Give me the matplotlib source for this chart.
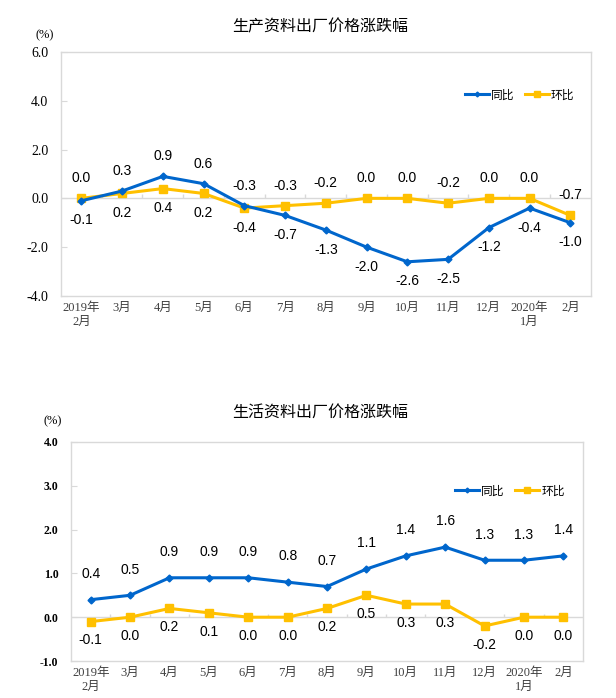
import numpy as np
import matplotlib
matplotlib.use("Agg")
import matplotlib.pyplot as plt

# data
months = ['2019年\n2月', '3月', '4月', '5月', '6月', '7月', '8月', '9月',
          '10月', '11月', '12月', '2020年\n1月', '2月']

prod_yoy = [-0.1, 0.3, 0.9, 0.6, -0.3, -0.7, -1.3, -2.0, -2.6, -2.5, -1.2, -0.4, -1.0]
prod_mom = [0.0, 0.2, 0.4, 0.2, -0.4, -0.3, -0.2, 0.0, 0.0, -0.2, 0.0, 0.0, -0.7]

cons_yoy = [0.4, 0.5, 0.9, 0.9, 0.9, 0.8, 0.7, 1.1, 1.4, 1.6, 1.3, 1.3, 1.4]
cons_mom = [-0.1, 0.0, 0.2, 0.1, 0.0, 0.0, 0.2, 0.5, 0.3, 0.3, -0.2, 0.0, 0.0]

BLUE = '#0066CC'
YELLOW = '#FFC000'
GRID = '#D9D9D9'
SERIF = ['Liberation Serif', 'Noto Sans CJK SC']
SANS = ['Liberation Sans', 'Noto Sans CJK SC']
CJK = ['Noto Sans CJK SC', 'DejaVu Sans']

fig = plt.figure(figsize=(6.16, 6.98), dpi=100)


def draw_panel(ax, yoy, mom, ylim, yticks, title, title_y, pct_xy, leg_anchor,
               ytick_size, ytick_weight, sides, offs):
    x = np.arange(len(months))
    ax.set_xlim(-0.5, len(months) - 0.5)
    ax.set_ylim(*ylim)

    # zero line with category ticks
    ax.axhline(0, color=GRID, lw=1, zorder=1)
    tick_h = (ylim[1] - ylim[0]) * 0.016
    ax.vlines(np.arange(0.5, len(months) - 1), 0, tick_h, color=GRID, lw=1, zorder=1)

    ax.plot(x, yoy, color=BLUE, lw=2.2, marker='D', ms=3.5, label='同比', zorder=3)
    ax.plot(x, mom, color=YELLOW, lw=2.2, marker='s', ms=5.5, label='环比', zorder=2)

    # data labels: higher series above, lower below (unless fixed)
    for i in x:
        for vals, other, fixed in ((yoy, mom, sides[0]), (mom, yoy, sides[1])):
            if fixed is None:
                up = vals[i] > other[i] or (vals[i] == other[i] and vals is mom)
            else:
                up = fixed
            dy = offs[0] if up else -offs[1]
            ax.annotate(f'{vals[i]:.1f}', (i, vals[i]), xytext=(0, dy),
                        textcoords='offset points', ha='center', va='center',
                        fontsize=10, family=SANS, color='black', zorder=4)

    ax.set_xticks(x)
    ax.set_xticklabels(months, family=SERIF, fontsize=9, color='#404040',
                       linespacing=1.3)
    ax.tick_params(axis='x', length=0, pad=4)
    ax.set_yticks(yticks)
    ax.set_yticklabels([f'{v:.1f}' for v in yticks], family=SERIF,
                       fontsize=ytick_size, fontweight=ytick_weight)
    ax.tick_params(axis='y', direction='in', length=4, color=GRID, pad=9)
    for s in ax.spines.values():
        s.set_color(GRID)
        s.set_linewidth(1)

    fig.text(0.52, title_y, title, ha='center', va='center', family=CJK,
             fontsize=11.5)
    fig.text(pct_xy[0], pct_xy[1], '(%)', ha='center', va='center',
             family=SERIF, fontsize=9)
    ax.legend(loc='center', bbox_to_anchor=leg_anchor, ncol=2, frameon=False,
              prop={'family': CJK, 'size': 8.5}, handlelength=2.0,
              handletextpad=0.2, columnspacing=0.9, borderaxespad=0,
              markerscale=0.7)


ax1 = fig.add_axes([0.099, 0.576, 0.860, 0.3496])
draw_panel(ax1, prod_yoy, prod_mom, (-4, 6), [-4, -2, 0, 2, 4, 6],
           '生产资料出厂价格涨跌幅', 1 - 27 / 698, (45 / 616, 1 - 35 / 698),
           (0.866, 0.824), 10, 'normal', (None, None), (14.5, 14))

ax2 = fig.add_axes([0.1153, 0.053, 0.8312, 0.3138])
draw_panel(ax2, cons_yoy, cons_mom, (-1, 4), [-1, 0, 1, 2, 3, 4],
           '生活资料出厂价格涨跌幅', 1 - 412 / 698, (53 / 616, 1 - 421 / 698),
           (0.857, 0.776), 8.5, 'bold', (True, False), (18.5, 13.5))

fig.savefig('out.png', dpi=100)
